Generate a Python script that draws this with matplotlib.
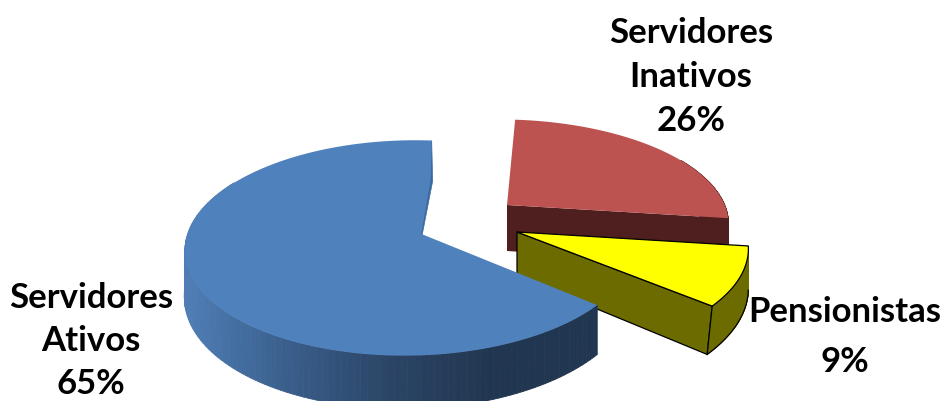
import matplotlib
matplotlib.use('Agg')
import matplotlib.pyplot as plt
import numpy as np
from matplotlib.colors import LinearSegmentedColormap
from matplotlib.patches import Polygon

plt.rcParams['font.family'] = ['Lato', 'DejaVu Sans']

# clockwise from the red slice, as Excel lays them out
categories = ['Servidores\nInativos', 'Pensionistas', 'Servidores\nAtivos']
shares = [26, 9, 65]

first_angle = 4
tilt_y = 0.157
tilt_x = 0.015

# apex x, apex y, x radius, y radius, depth, skew, lean of the lower rim
geometry = [(507, 205, 221, 99, 46, 6, 0), (517, 232, 232, 105, 44, 0, -5), (414, 231, 222, 105, 45, -5, -1)]
top_colors = ['#bd5350', '#ffff00', '#4f81bd']
front_colors = ['#4f1e1e', '#6b6b00', '#3c6a9f']
rim_colors = [('#4f1e1e', '#4f1e1e'), ('#6b6b00', '#6b6b00'),
              ('#4f7eb6', '#3a5f8c', '#2b4566', '#213650', '#213650')]
edges = [None, 'black', None]
label_pos = [(691, 77), (845, 337), (91, 341)]
label_spacing = [1.46, 1.7, 1.42]


def project(theta, geo):
    ax_, ay, rx, ry, depth, skew, _ = geo
    x, y = np.sin(theta), np.cos(theta)
    w = 1 + tilt_y * y + tilt_x * x
    return ax_ + (rx * x - skew * y) / w, ay - ry * y / w, depth / w


def draw_slice(ax, start, stop, geo, top, front, rim, edge):
    theta = np.radians(np.linspace(start, stop, 160))
    sx, sy, d = project(theta, geo)
    apex_x, apex_y = geo[0], geo[1]
    depth, lean = geo[4], geo[6]
    shift = lean * np.linspace(0, 1, len(theta))
    lw = 0.9 if edge else 0

    # radial wall that faces the viewer
    wall = [(apex_x, apex_y), (sx[-1], sy[-1]), (sx[-1] + shift[-1], sy[-1] + d[-1]), (apex_x, apex_y + depth)]
    ax.add_patch(Polygon(wall, closed=True, fc=front, ec=edge or front, lw=lw))

    # outer rim, only the part that looks down towards the viewer
    cmap = LinearSegmentedColormap.from_list('rim', rim)
    visible = np.where((np.radians(60) < theta % (2 * np.pi)) & (theta % (2 * np.pi) < np.radians(300)))[0]
    lo, hi = sx[visible].min(), sx[visible].max()
    for i in visible[:-1]:
        quad = [(sx[i], sy[i]), (sx[i + 1], sy[i + 1]), (sx[i + 1] + shift[i + 1], sy[i + 1] + d[i + 1]),
                (sx[i] + shift[i], sy[i] + d[i])]
        c = cmap((sx[i] - lo) / max(hi - lo, 1))
        ax.add_patch(Polygon(quad, closed=True, fc=c, ec=c, lw=0.6))
    if edge:
        ax.plot(sx[visible] + shift[visible], sy[visible] + d[visible], color=edge, lw=lw)
        ax.plot([sx[-1], sx[-1] + shift[-1]], [sy[-1], sy[-1] + d[-1]], color=edge, lw=lw)

    pts = np.column_stack([np.r_[apex_x, sx], np.r_[apex_y, sy]])
    ax.add_patch(Polygon(pts, closed=True, fc=top, ec=edge or top, lw=lw))


def draw_back_wall(ax, start, geo, color):
    # wall of the big slice on its far edge, seen through the gap
    sx, sy, d = project(np.radians(start), geo)
    wall = [(geo[0], geo[1]), (sx, sy), (sx + 1, sy + d * 1.04), (geo[0], geo[1] + 46)]
    ax.add_patch(Polygon(wall, closed=True, fc=color, ec=color, lw=0.5))


fig = plt.figure(figsize=(9.44, 4.01), dpi=100)
ax = fig.add_axes([0, 0, 1, 1])
ax.set_xlim(0, 944)
ax.set_ylim(401, 0)
ax.axis('off')

angles = first_angle + np.r_[0, np.cumsum(shares)] * 3.6
for k in range(len(shares)):
    if k == 2:
        # far wall goes before the top face
        draw_back_wall(ax, angles[k + 1], geometry[k], front_colors[k])
        draw_slice(ax, angles[k], angles[k + 1], geometry[k], top_colors[k], top_colors[k], rim_colors[k], edges[k])
    else:
        draw_slice(ax, angles[k], angles[k + 1], geometry[k], top_colors[k], front_colors[k], rim_colors[k], edges[k])

for name, share, (x, y), spacing in zip(categories, shares, label_pos, label_spacing):
    ax.text(x, y, f'{name}\n{share}%', ha='center', va='center', fontsize=25, fontweight='bold',
            color='black', linespacing=spacing)

fig.savefig('out.png', dpi=100)
